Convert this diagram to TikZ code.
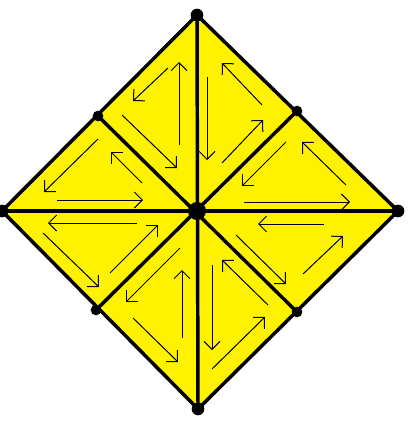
\documentclass[tikz,border=0pt]{standalone}
\usetikzlibrary{arrows.meta}
\definecolor{paintyellow}{RGB}{255,242,0}
\tikzset{
  edge/.style={line width=2.6pt, line cap=round, line join=round},
  cyc/.style={line width=0.75pt, -{Straight Barb[length=6pt,width=12pt,line width=0.75pt]}},
  vdot/.style={circle, fill=black, inner sep=0pt, minimum size=9.5pt},
  mdot/.style={circle, fill=black, inner sep=0pt, minimum size=8pt},
  cdot/.style={circle, fill=black, inner sep=0pt, minimum size=13.5pt}
}
\begin{document}
\begin{tikzpicture}[x=0.75pt,y=-0.75pt]
\useasboundingbox (0,0) rectangle (409,421);
\coordinate (T) at (197,15);
\coordinate (L) at (2,211);
\coordinate (R) at (398,211);
\coordinate (B) at (198,409);
\coordinate (C) at (197,211);
\coordinate (MTL) at (98,116);
\coordinate (MTR) at (297,111);
\coordinate (MBL) at (96,310);
\coordinate (MBR) at (297,312);
\fill[paintyellow] (T) -- (R) -- (B) -- (L) -- cycle;
\draw[edge] (T) -- (R) -- (B) -- (L) -- cycle;
\draw[edge] (T) -- (B);
\draw[edge] (L) -- (R);
\draw[edge] (MTL) -- (MBR);
\draw[edge] (MTR) -- (MBL);
% arrows
% T1
\draw[cyc] (168,68) -- (133,101);
\draw[cyc] (122,115) -- (177,168);
\draw[cyc] (179,145) -- (179,62);
% T2
\draw[cyc] (207,77) -- (207,160);
\draw[cyc] (222,163) -- (263,120);
\draw[cyc] (262,105) -- (222,63);
% T3
\draw[cyc] (98,139) -- (44,192);
\draw[cyc] (57,200) -- (143,200);
\draw[cyc] (142,183) -- (111,152);
% T4
\draw[cyc] (137,223) -- (48,223);
\draw[cyc] (43,233) -- (99,287);
\draw[cyc] (110,273) -- (158,225);
% T5
\draw[cyc] (286,142) -- (242,186);
\draw[cyc] (244,202) -- (350,202);
\draw[cyc] (346,185) -- (302,142);
% T6
\draw[cyc] (324,224) -- (258,224);
\draw[cyc] (236,235) -- (286,284);
\draw[cyc] (303,274) -- (343,236);
% T7
\draw[cyc] (180,248) -- (126,302);
\draw[cyc] (133,318) -- (178,362);
\draw[cyc] (182,338) -- (182,270);
% T8
\draw[cyc] (212,265) -- (212,350);
\draw[cyc] (212,369) -- (265,317);
\draw[cyc] (268,305) -- (222,260);
% dots
\node[vdot] (nT) at (T) {};
\node[vdot] (nL) at (L) {};
\node[vdot] (nR) at (R) {};
\node[vdot] (nB) at (B) {};
\node[mdot] (nMTL) at (MTL) {};
\node[mdot] (nMTR) at (MTR) {};
\node[mdot] (nMBL) at (MBL) {};
\node[mdot] (nMBR) at (MBR) {};
\node[cdot] (nC) at (C) {};
\end{tikzpicture}
\end{document}
